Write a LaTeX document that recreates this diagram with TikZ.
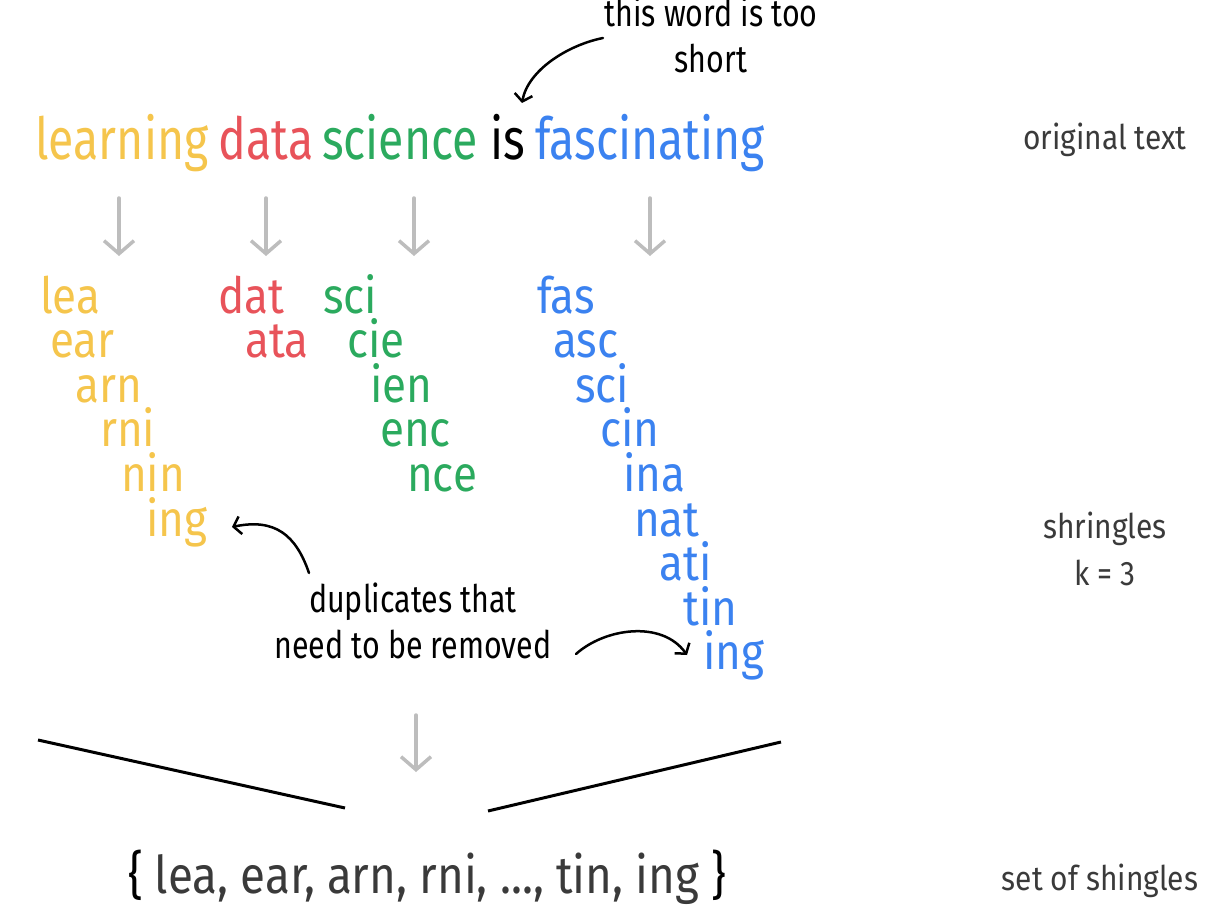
\documentclass[tikz,border=0pt]{standalone}
\usepackage{fontspec}
\setmainfont{Fira Sans}[FakeStretch=0.8]
\newfontfamily\annfont{Fira Sans}[FakeStretch=0.8]
\newfontfamily\shfont{Fira Sans}[FakeStretch=0.88]
\usetikzlibrary{arrows.meta}
\definecolor{cyel}{HTML}{F5C54C}
\definecolor{cred}{HTML}{E8535A}
\definecolor{cgrn}{HTML}{2BAA5E}
\definecolor{cblu}{HTML}{3B82F0}
\definecolor{cgray}{HTML}{3A3A3A}
\definecolor{agray}{HTML}{BDBDBD}
\begin{document}
\begin{tikzpicture}[x=1pt,y=-1pt,
  word/.style={inner sep=0pt, anchor=base, font=\fontsize{58}{60}\selectfont},
  sh/.style={inner sep=0pt, anchor=base west, font=\shfont\fontsize{50}{55}\selectfont},
  side/.style={inner sep=0pt, anchor=base, text=cgray, font=\shfont\fontsize{34}{40}\selectfont},
  note/.style={inner sep=0pt, anchor=base, font=\annfont\fontsize{38}{40}\selectfont},
  flow/.style={draw=agray, line width=3.5pt, line cap=round, -{Straight Barb[length=13pt,width=30pt]}},
  callout/.style={draw=black, line width=2.5pt, line cap=round, -{Straight Barb[length=7pt,width=18pt]}},
  bar/.style={draw=black, line width=3pt}]
\useasboundingbox (0,0) rectangle (1226,920);

% annotation top
\node[note] (short1) at (711,27) {this word is too};
\node[note] (short2) at (711,73) {short};
\coordinate (c1s) at (603,38);
\coordinate (c1e) at (522,103);
\draw[callout] (c1s) .. controls (568,45) and (528,70) .. (c1e);

% original text
\node[word, text=cyel] (w1) at (122,160) {learning};
\node[word, text=cred] (w2) at (266,160) {data};
\node[word, text=cgrn] (w3) at (400,160) {science};
\node[word, text=black] (w4) at (508,160) {is};
\node[word, text=cblu] (w5) at (650,160) {fascinating};
\node[side] (lab1) at (1105,150) {original text};

% gray arrows
\foreach \x [count=\i] in {119,266,414,650}{
  \coordinate (g\i s) at (\x,198);
  \coordinate (g\i e) at (\x,256);
  \draw[flow] (g\i s) -- (g\i e);
}

% shingles
\node[sh, text=cyel] (y1) at (40,313) {lea};
\node[sh, text=cyel] (y2) at (50,357.6) {ear};
\node[sh, text=cyel] (y3) at (75,402.2) {arn};
\node[sh, text=cyel] (y4) at (100,446.8) {rni};
\node[sh, text=cyel] (y5) at (121,491.4) {nin};
\node[sh, text=cyel] (y6) at (146,536) {ing};

\node[sh, text=cred] (r1) at (218,313) {dat};
\node[sh, text=cred] (r2) at (245,357.6) {ata};

\node[sh, text=cgrn] (s1) at (323,313) {sci};
\node[sh, text=cgrn] (s2) at (347,357.6) {cie};
\node[sh, text=cgrn] (s3) at (370,402.2) {ien};
\node[sh, text=cgrn] (s4) at (380,446.8) {enc};
\node[sh, text=cgrn] (s5) at (407,491.4) {nce};

\node[sh, text=cblu] (b1) at (537,313) {fas};
\node[sh, text=cblu] (b2) at (553,357.6) {asc};
\node[sh, text=cblu] (b3) at (575,402.2) {sci};
\node[sh, text=cblu] (b4) at (600,446.8) {cin};
\node[sh, text=cblu] (b5) at (623,491.4) {ina};
\node[sh, text=cblu] (b6) at (634,536) {nat};
\node[sh, text=cblu] (b7) at (659,580.6) {ati};
\node[sh, text=cblu] (b8) at (683,625.2) {tin};
\node[sh, text=cblu] (b9) at (703,669.8) {ing};

\node[side] (lab2a) at (1105,538) {shringles};
\node[side] (lab2b) at (1105,585) {k = 3};

% duplicates note
\node[note] (dup1) at (413,612) {duplicates that};
\node[note] (dup2) at (413,658) {need to be removed};
\coordinate (d1s) at (309,573);
\coordinate (d1e) at (232,527);
\draw[callout] (d1s) .. controls (296,535) and (275,518) .. (d1e);
\coordinate (d2s) at (576,654);
\coordinate (d2e) at (687,655);
\draw[callout] (d2s) .. controls (605,628) and (662,620) .. (d2e);

% bottom
\coordinate (g5s) at (416,715);
\coordinate (g5e) at (416,772);
\draw[flow] (g5s) -- (g5e);
\coordinate (l1a) at (38,740);
\coordinate (l1b) at (345,808);
\coordinate (l2a) at (488,811);
\coordinate (l2b) at (781,742);
\draw[bar] (l1a) -- (l1b);
\draw[bar] (l2a) -- (l2b);

\node[inner sep=0pt, anchor=base, font=\shfont\fontsize{52}{56}\selectfont, text=cgray] (set) at (427,893)
  {{\color{black}\{} lea, ear, arn, rni, ..., tin, ing {\color{black}\}}};
\node[side] (lab3) at (1100,890) {set of shingles};
\end{tikzpicture}
\end{document}
